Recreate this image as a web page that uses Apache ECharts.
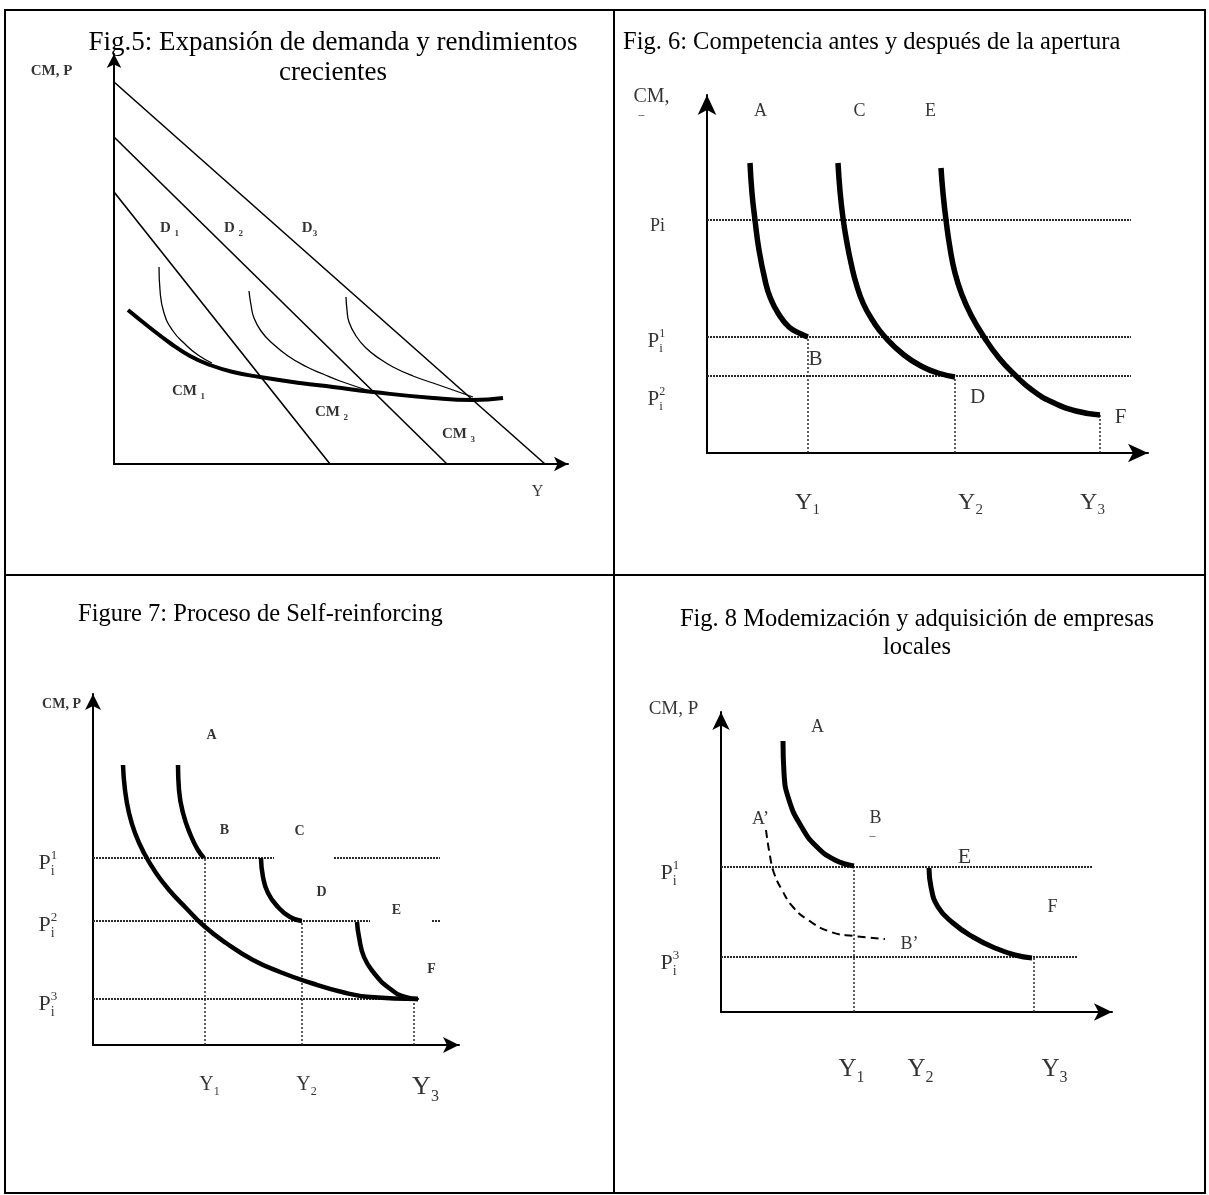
<!DOCTYPE html>
<html>
<head>
<meta charset="utf-8">
<script src="https://cdn.jsdelivr.net/npm/echarts@6/dist/echarts.min.js"></script>
<style>
html,body{margin:0;padding:0;background:#fff;}
#chart{width:1209px;height:1195px;}
</style>
</head>
<body>
<div id="chart"></div>
<script>
// ================= DATA =================
// ---- Fig.5 : demand lines and cost curves (x = output Y, y = CM, P) ----
const fig5D1 = [[0, 272], [216, 0]];
const fig5D2 = [[0, 327], [333, 0]];
const fig5D3 = [[0, 382], [431, 0]];
const fig5LongRunCM = [[14,154],[35,137],[56,121],[76,108],[96,99],[119,92],[146,87],[186,81],[219,77],[259,72],[319,66],[359,64],[389,66]];
const fig5CM1 = [[45,197],[46,174],[50,151],[59,133],[71,120],[84,109],[98,101]];
const fig5CM2 = [[135,173],[137,159],[140,146],[147,133],[158,121],[174,108],[193,97],[209,90],[226,83],[259,72]];
const fig5CM3 = [[232,167],[233,154],[235,142],[242,128],[252,116],[266,105],[279,97],[299,88],[319,81],[339,74],[359,67]];
const fig5Labels = [[-62,392,'CM, P'],[56,235,'D {sub|1}'],[120,235,'D {sub|2}'],[196,235,'D{sub|3}'],
                    [75,72,'CM {sub|1}'],[218,51,'CM {sub|2}'],[345,29,'CM {sub|3}']];
const fig5AxisLabels = [[424,-28,'Y']];

// ---- Fig.6 : competition before and after opening ----
const fig6PriceLevels = [233, 116, 77];          // Pi, P1, P2
const fig6PriceEnd = 424;
const fig6CurveAB = [[43,290],[45,260],[48,233],[52,203],[58,173],[63,156],[71,140],[82,126],[94,119],[101,116]];
const fig6CurveCD = [[131,290],[133,262],[136,235],[140,210],[144,190],[149,170],[156,150],[166,132],[178,116],[197,98],[216,86],[231,80],[248,76]];
const fig6CurveEF = [[234,285],[236,260],[239,233],[243,205],[248,180],[255,158],[264,138],[277,116],[292,95],[308,78],[325,63],[345,51],[369,42],[393,38]];
const fig6Drops = [[101,116],[248,76],[393,38]];   // Y1, Y2, Y3 output levels
const fig6SmallLetters = [[54,341,'A'],[153,341,'C'],[224,341,'E'],[-49,226,'Pi']];
const fig6BigLetters = [[109,93,'B'],[271,55,'D'],[414,35,'F']];
const fig6AxisName = [[-55,356,'CM,']];
const fig6Dash = [[-65,338,'–']];
const fig6PLabels = [[-59,111,'P{sup|1}{sub|i}'],[-59,53,'P{sup|2}{sub|i}']];
const fig6YLabels = [[101,-50,'Y{sub|1}'],[264,-50,'Y{sub|2}'],[386,-50,'Y{sub|3}']];

// ---- Figure 7 : self-reinforcing process ----
const fig7P1a = [[0,187],[181,187]];
const fig7P1b = [[241,187],[347,187]];
const fig7P2a = [[0,124],[277,124]];
const fig7P2b = [[339,124],[347,124]];
const fig7P3 = [[0,46],[327,46]];
const fig7Drops = [[112,187],[209,124],[321,46]];
const fig7LongRun = [[30,280],[32,255],[36,232],[42,212],[51,192],[63,172],[77,154],[93,137],[111,119],[133,102],[160,85],[187,73],[218,62],[249,53],[277,48],[325,46]];
const fig7CurveAB = [[85,280],[86,255],[90,232],[98,209],[105,195],[111,187]];
const fig7CurveCD = [[168,187],[170,168],[175,152],[185,138],[197,128],[209,124]];
const fig7CurveEF = [[264,123],[266,108],[271,88],[281,72],[296,57],[312,48],[325,46]];
const fig7Letters = [[-31,340,'CM, P'],[119,309,'A'],[132,214,'B'],[207,213,'C'],[229,152,'D'],[304,134,'E'],[339,75,'F']];
const fig7PLabels = [[-54,181,'P{sup|1}{sub|i}'],[-54,119,'P{sup|2}{sub|i}'],[-54,40,'P{sup|3}{sub|i}']];
const fig7YLabels = [[117,-40,'Y{sub|1}'],[214,-40,'Y{sub|2}']];
const fig7Y3Label = [[333,-43,'Y{sub|3}']];

// ---- Fig. 8 : modernisation and acquisition of local firms ----
const fig8P1 = [[0,145],[372,145]];
const fig8P3 = [[0,55],[357,55]];
const fig8Drops = [[133,145],[313,55]];
const fig8CurveAB = [[62,271],[63,239],[68,212],[80,186],[95,166],[114,152],[133,146]];
const fig8CurveEF = [[208,144],[210,125],[217,105],[232,89],[252,75],[274,64],[294,57],[311,54]];
const fig8CurveAB2 = [[45,182],[49,156],[53,139],[61,122],[72,105],[87,92],[110,80],[133,76],[164,73]];
const fig8AxisName = [[-47,302,'CM, P']];
const fig8Letters = [[97,284,'A'],[155,193,'B'],[40,192,'A’'],[189,67,'B’'],[332,104,'F']];
const fig8E = [[244,154,'E']];
const fig8Dash = [[152,176,'–']];
const fig8PLabels = [[-60,138,'P{sup|1}{sub|i}'],[-60,48,'P{sup|3}{sub|i}']];
const fig8YLabels = [[131,-58,'Y{sub|1}'],[200,-58,'Y{sub|2}'],[334,-58,'Y{sub|3}']];

// ================= CHART =================
const FONT = '"Liberation Serif", "Times New Roman", serif';
const BLACK = '#000';

function richFor(f, bold) {
  const w = bold ? 'bold' : 'normal';
  const s = Math.round(f * 0.62), p = Math.round(f * 0.58);
  return {
    sub: {fontFamily: FONT, fontWeight: w, fontSize: s, lineHeight: s, verticalAlign: 'bottom', color: BLACK},
    sup: {fontFamily: FONT, fontWeight: w, fontSize: p, lineHeight: p, verticalAlign: 'top', width: 0, align: 'left', color: BLACK}
  };
}

function labels(idx, arr, size, bold, align) {
  return {
    type: 'scatter', xAxisIndex: idx, yAxisIndex: idx, clip: false, silent: true, z: 10,
    symbolSize: 1, itemStyle: {color: 'rgba(0,0,0,0)'},
    data: arr.map(d => ({value: [d[0], d[1]], name: d[2]})),
    label: {
      show: true, position: [0, 0], align: align || 'center', verticalAlign: 'middle',
      formatter: p => p.name, fontFamily: FONT, fontSize: size, fontWeight: bold ? 'bold' : 'normal',
      color: BLACK, lineHeight: Math.round(size * 1.3), rich: richFor(size, bold)
    }
  };
}

function line(idx, data, style, smooth) {
  return {
    type: 'line', xAxisIndex: idx, yAxisIndex: idx, data: data, symbol: 'none', showSymbol: false,
    smooth: smooth || false, silent: true, z: 3, lineStyle: Object.assign({color: BLACK, cap: 'butt', join: 'round'}, style)
  };
}

function hLine(y, x0, x1) { return [[x0, y], [x1, y]]; }

const DOT_H = {width: 2, type: [2, 1], color: '#2a2a2a'};
const DOT_V = {width: 1.5, type: [2, 2], color: '#2a2a2a'};
const SM = 0.5;

function axis(idx, max, arrow, w) {
  return {
    type: 'value', gridIndex: idx, min: 0, max: max,
    axisLine: {show: true, onZero: false, symbol: ['none', 'arrow'], symbolSize: arrow,
               lineStyle: {color: BLACK, width: w || 2}},
    axisTick: {show: false}, axisLabel: {show: false}, splitLine: {show: false}
  };
}

const grids = [
  {left: 114, top: 54, width: 454, height: 410},
  {left: 707, top: 95, width: 441, height: 358},
  {left: 93, top: 694, width: 366, height: 351},
  {left: 721, top: 712, width: 391, height: 300}
];
const arrows = [[11, 14], [14, 20], [12, 16], [13, 18]];

const series = [];
// Fig 5
series.push(line(0, fig5D1, {width: 1.6}));
series.push(line(0, fig5D2, {width: 1.6}));
series.push(line(0, fig5D3, {width: 1.6}));
series.push(line(0, fig5LongRunCM, {width: 4}, SM));
series.push(line(0, fig5CM1, {width: 1.3}, SM));
series.push(line(0, fig5CM2, {width: 1.3}, SM));
series.push(line(0, fig5CM3, {width: 1.3}, SM));
series.push(labels(0, fig5Labels, 15, true));
series.push(labels(0, fig5AxisLabels, 16, false));
// Fig 6
fig6PriceLevels.forEach(p => series.push(line(1, hLine(p, 0, fig6PriceEnd), DOT_H)));
fig6Drops.forEach(d => series.push(line(1, [[d[0], 0], [d[0], d[1]]], DOT_V)));
series.push(line(1, fig6CurveAB, {width: 5.5}, SM));
series.push(line(1, fig6CurveCD, {width: 5.5}, SM));
series.push(line(1, fig6CurveEF, {width: 5.5}, SM));
series.push(labels(1, fig6SmallLetters, 18, false));
series.push(labels(1, fig6BigLetters, 21, false));
series.push(labels(1, fig6AxisName, 20, false));
series.push(labels(1, fig6Dash, 12, false));
series.push(labels(1, fig6PLabels, 21, false, 'left'));
series.push(labels(1, fig6YLabels, 24, false));
// Fig 7
[fig7P1a, fig7P1b, fig7P2a, fig7P2b, fig7P3].forEach(s => series.push(line(2, s, DOT_H)));
fig7Drops.forEach(d => series.push(line(2, [[d[0], 0], [d[0], d[1]]], DOT_V)));
series.push(line(2, fig7LongRun, {width: 4.5}, SM));
series.push(line(2, fig7CurveAB, {width: 4.5}, SM));
series.push(line(2, fig7CurveCD, {width: 4.5}, SM));
series.push(line(2, fig7CurveEF, {width: 4.5}, SM));
series.push(labels(2, fig7Letters, 14, true));
series.push(labels(2, fig7PLabels, 22, false, 'left'));
series.push(labels(2, fig7YLabels, 20, false));
series.push(labels(2, fig7Y3Label, 26, false));
// Fig 8
series.push(line(3, fig8P1, DOT_H));
series.push(line(3, fig8P3, DOT_H));
fig8Drops.forEach(d => series.push(line(3, [[d[0], 0], [d[0], d[1]]], DOT_V)));
series.push(line(3, fig8CurveAB, {width: 5}, SM));
series.push(line(3, fig8CurveEF, {width: 5}, SM));
series.push(line(3, fig8CurveAB2, {width: 2, type: [8, 5]}, SM));
series.push(labels(3, fig8AxisName, 19, false));
series.push(labels(3, fig8Letters, 18, false));
series.push(labels(3, fig8E, 22, false));
series.push(labels(3, fig8Dash, 12, false));
series.push(labels(3, fig8PLabels, 22, false, 'left'));
series.push(labels(3, fig8YLabels, 25, false));

const titleStyle = (size, lh) => ({fontFamily: FONT, fontSize: size, fontWeight: 'normal', color: BLACK, lineHeight: lh});

const option = {
  animation: false,
  backgroundColor: '#fff',
  title: [
    {text: 'Fig.5: Expansión de demanda y rendimientos\ncrecientes', left: 333, top: 28, textAlign: 'center', padding: 0, textStyle: titleStyle(27, 30)},
    {text: 'Fig. 6: Competencia antes y después de la apertura', left: 623, top: 28, padding: 0, textStyle: titleStyle(24.5, 30)},
    {text: 'Figure 7: Proceso de Self-reinforcing', left: 78, top: 600, padding: 0, textStyle: titleStyle(24.5, 30)},
    {text: 'Fig. 8 Modemización y adquisición de empresas\nlocales', left: 917, top: 606, textAlign: 'center', padding: 0, textStyle: titleStyle(24.5, 28)}
  ],
  grid: grids,
  xAxis: grids.map((g, i) => axis(i, g.width, arrows[i])),
  yAxis: grids.map((g, i) => axis(i, g.height, arrows[i])),
  series: series,
  graphic: [
    {type: 'rect', silent: true, shape: {x: 5, y: 10, width: 1200, height: 1183}, style: {fill: 'none', stroke: BLACK, lineWidth: 2}},
    {type: 'line', silent: true, shape: {x1: 614, y1: 10, x2: 614, y2: 1193}, style: {stroke: BLACK, lineWidth: 2}},
    {type: 'line', silent: true, shape: {x1: 5, y1: 575, x2: 1205, y2: 575}, style: {stroke: BLACK, lineWidth: 2}}
  ]
};

const chart = echarts.init(document.getElementById('chart'), null, {renderer: 'canvas'});
chart.setOption(option);
</script>
</body>
</html>
